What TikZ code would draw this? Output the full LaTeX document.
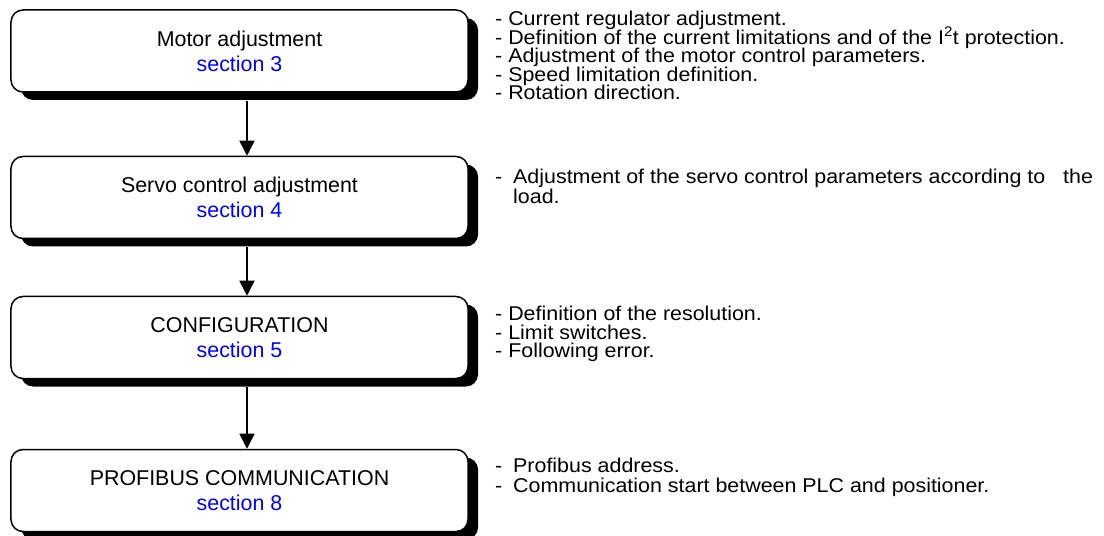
\documentclass[tikz,border=0pt]{standalone}
\usepackage{fontspec}
\setmainfont{Liberation Sans}
\newfontfamily\notefont{Liberation Sans}[FakeStretch=1.075]
\usetikzlibrary{arrows.meta,shadows}
\definecolor{seclink}{RGB}{0,0,255}
\setlength{\lineskiplimit}{-100pt}
\begin{document}
\begin{tikzpicture}[x=1bp,y=-1bp,
  stage/.style={draw,line width=1.5bp,rounded corners=12bp,fill=white,
    minimum width=457bp,minimum height=82bp,inner sep=0pt,align=center,
    font=\fontsize{21.5}{25}\selectfont,
    drop shadow={shadow xshift=10bp,shadow yshift=-8bp,opacity=1,fill=black}},
  notes/.style={anchor=north west,inner sep=0pt,align=left,
    font=\notefont\fontsize{20}{18.6}\selectfont},
  wide notes/.style={anchor=north west,inner sep=0pt,align=left,
    font=\notefont\fontsize{20}{20}\selectfont},
  arr/.style={line width=1.5bp,-{Triangle[length=15bp,width=15bp]}}
]
\useasboundingbox (0,0) rectangle (1104,536);

\node[stage] (b1) at (239.5,51) {Motor adjustment\\\textcolor{seclink}{section 3}};
\node[stage] (b2) at (239.5,197.5) {Servo control adjustment\\\textcolor{seclink}{section 4}};
\node[stage] (b3) at (239.5,337.5) {CONFIGURATION\\\textcolor{seclink}{section 5}};
\node[stage] (b4) at (239.5,490.5) {PROFIBUS COMMUNICATION\\\textcolor{seclink}{section 8}};

\draw[arr] ([xshift=7.5bp,yshift=-8bp]b1.south) -- ([xshift=7.5bp]b2.north);
\draw[arr] ([xshift=7.5bp,yshift=-8bp]b2.south) -- ([xshift=7.5bp]b3.north);
\draw[arr] ([xshift=7.5bp,yshift=-8bp]b3.south) -- ([xshift=7.5bp]b4.north);

\node[notes] (n1) at (495,11) {- Current regulator adjustment.\\
- Definition of the current limitations and of the I\textsuperscript{2}t protection.\\
- Adjustment of the motor control parameters.\\
- Speed limitation definition.\\
- Rotation direction.};
\node[wide notes] (n2) at (495,169) {\makebox[18bp][l]{-}Adjustment of the servo control parameters according to\hspace{0.6em} the\\
\hspace*{18bp}load.};
\node[notes] (n3) at (495,306) {- Definition of the resolution.\\
- Limit switches.\\
- Following error.};
\node[wide notes] (n4) at (495,458) {\makebox[18bp][l]{-}Profibus address.\\
\makebox[18bp][l]{-}Communication start between PLC and positioner.};
\end{tikzpicture}
\end{document}
